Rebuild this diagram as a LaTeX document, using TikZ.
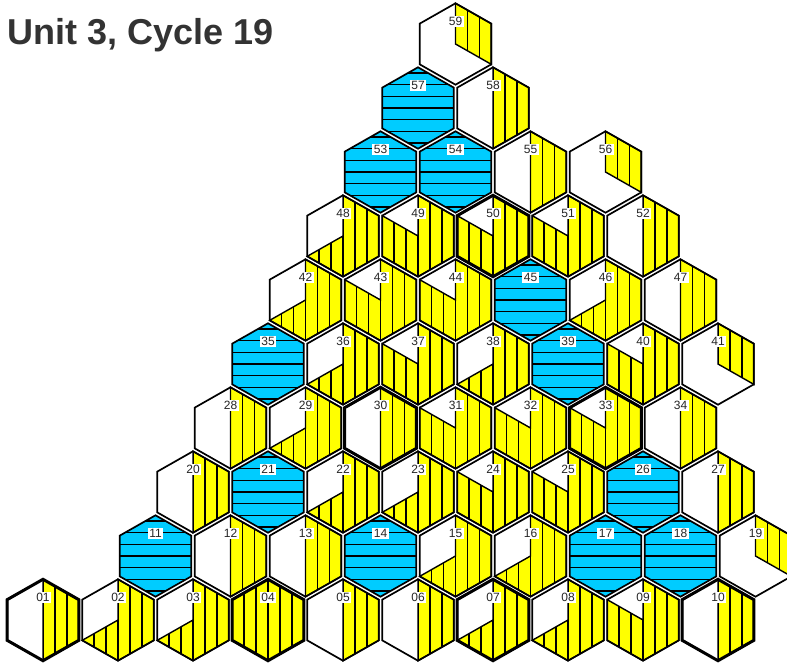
\documentclass[tikz,border=0pt]{standalone}
\usepackage{fontspec}
\setmainfont{Liberation Sans}
\usetikzlibrary{calc}
\definecolor{fuelyellow}{RGB}{255,255,0}
\definecolor{coolblue}{RGB}{0,204,255}
\definecolor{titlegray}{RGB}{51,51,51}

\begin{document}
\begin{tikzpicture}[x=1pt, y=1pt,
  cellline/.style={line width=1.7pt},
  heavyline/.style={line width=3pt},
  stripe/.style={line width=1.4pt},
  tag/.style={fill=white, inner sep=1.5pt, font=\fontsize{12}{12}\selectfont, text=black!85}]
  \useasboundingbox (0,0) rectangle (787,662);
  \node[anchor=base west, inner sep=0pt, font=\fontsize{36}{36}\selectfont\bfseries, text=titlegray] (title) at (7,617) {Unit 3, Cycle 19};

  % label/row/col/yellow sixths (-1 = blue)
  \foreach \lab/\row/\col/\n in {01/0/0/3, 02/0/1/4, 03/0/2/4, 04/0/3/6, 05/0/4/3, 06/0/5/3, 07/0/6/4, 08/0/7/4, 09/0/8/5, 10/0/9/3,
      11/1/1/-1, 12/1/2/3, 13/1/3/3, 14/1/4/-1, 15/1/5/4, 16/1/6/4, 17/1/7/-1, 18/1/8/-1, 19/1/9/2,
      20/2/1/3, 21/2/2/-1, 22/2/3/4, 23/2/4/4, 24/2/5/5, 25/2/6/5, 26/2/7/-1, 27/2/8/3,
      28/3/1/3, 29/3/2/4, 30/3/3/3, 31/3/4/5, 32/3/5/5, 33/3/6/5, 34/3/7/3,
      35/4/1/-1, 36/4/2/4, 37/4/3/5, 38/4/4/4, 39/4/5/-1, 40/4/6/5, 41/4/7/2,
      42/5/1/4, 43/5/2/5, 44/5/3/5, 45/5/4/-1, 46/5/5/4, 47/5/6/3,
      48/6/1/4, 49/6/2/5, 50/6/3/5, 51/6/4/5, 52/6/5/3,
      53/7/1/-1, 54/7/2/-1, 55/7/3/3, 56/7/4/2,
      57/8/1/-1, 58/8/2/3,
      59/9/1/2}{
    \begin{scope}[shift={({43+37.5*\row+75*\col},{42+64*\row})}]
      \fill[white] (0,40.7) -- (35.8,20.35) -- (35.8,-20.35) -- (0,-40.7) -- (-35.8,-20.35) -- (-35.8,20.35) -- cycle;
      \ifnum\n<0
        \begin{scope}
          \clip (0,40.7) -- (35.8,20.35) -- (35.8,-20.35) -- (0,-40.7) -- (-35.8,-20.35) -- (-35.8,20.35) -- cycle;
          \fill[coolblue] (-40,-45) rectangle (40,45);
          \foreach \s in {-3,...,3}
            \draw[stripe] (-40,\s*11.7) -- (40,\s*11.7);
        \end{scope}
      \else\ifnum\n>0
        \begin{scope}
          \clip (0,0) \foreach \k [evaluate=\k as \ang using 90-60*\k] in {0,...,\n} { -- (\ang:41.34 and 40.7) } -- cycle;
          \fill[fuelyellow] (-40,-45) rectangle (40,45);
          \foreach \s in {-3,...,3}
            \draw[stripe] (\s*11.93,-45) -- (\s*11.93,45);
        \end{scope}
        \draw[stripe] (0,0) \foreach \k [evaluate=\k as \ang using 90-60*\k] in {0,...,\n} { -- (\ang:41.34 and 40.7) } -- cycle;
      \fi\fi
      \draw[cellline] (0,40.7) -- (35.8,20.35) -- (35.8,-20.35) -- (0,-40.7) -- (-35.8,-20.35) -- (-35.8,20.35) -- cycle;
      \node[tag] (lab\lab) at (0,22.5) {\lab};
    \end{scope}
  }

  % heavy outlines on top
  \foreach \row/\col in {0/0, 0/3, 0/6, 0/9, 3/3, 3/6, 6/3}
    \draw[heavyline, shift={({43+37.5*\row+75*\col},{42+64*\row})}]
      (0,40.7) -- (35.8,20.35) -- (35.8,-20.35) -- (0,-40.7) -- (-35.8,-20.35) -- (-35.8,20.35) -- cycle;
\end{tikzpicture}
\end{document}
